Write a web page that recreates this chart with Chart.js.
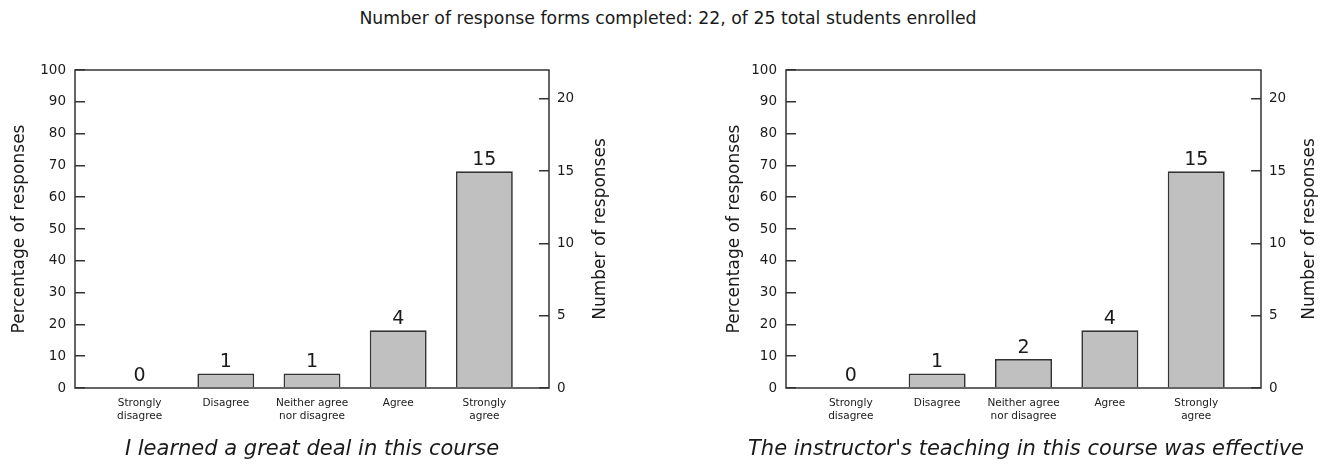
<!DOCTYPE html>
<html>
<head>
<meta charset="utf-8">
<script src="https://cdn.jsdelivr.net/npm/chart.js@4"></script>
<style>
  body { margin: 0; background: #fff; width: 1333px; height: 465px; position: relative; overflow: hidden; font-family: "DejaVu Sans", sans-serif; color: #1a1a1a; }
  #top { position: absolute; top: 8px; left: 0; width: 1336px; text-align: center; font-size: 17.3px; }
  .cap { position: absolute; top: 436px; font-style: italic; font-size: 21px; text-align: center; white-space: nowrap; }
  canvas { position: absolute; top: 0; }
</style>
</head>
<body>
<div id="top">Number of response forms completed: 22, of 25 total students enrolled</div>
<canvas id="c1" width="666" height="465" style="left:0"></canvas>
<canvas id="c2" width="667" height="465" style="left:666px"></canvas>
<div class="cap" style="left:12px;width:600px">I learned a great deal in this course</div>
<div class="cap" style="left:726px;width:600px">The instructor's teaching in this course was effective</div>
<script>
// answers, and counts per question (22 forms = 100%)
var categories = [['Strongly', 'disagree'], ['Disagree'], ['Neither agree', 'nor disagree'], ['Agree'], ['Strongly', 'agree']];
var learnedCounts = [0, 1, 1, 4, 15];
var teachingCounts = [0, 1, 2, 4, 15];
var totalForms = 22;
var pctTicks = [0, 10, 20, 30, 40, 50, 60, 70, 80, 90, 100];
var countTicks = [0, 5, 10, 15, 20];

var FONT = '"DejaVu Sans", sans-serif';
var INK = '#1a1a1a';
var AXIS = '#333';

// frame around the plot, count over each bar, right axis title (reads upwards)
var boxAndLabels = {
  id: 'boxAndLabels',
  afterDatasetsDraw: function (chart) {
    var ctx = chart.ctx, a = chart.chartArea;
    ctx.save();
    ctx.strokeStyle = AXIS;
    ctx.lineWidth = 1.5;
    ctx.strokeRect(a.left, a.top, a.right - a.left, a.bottom - a.top);
    ctx.font = '19px ' + FONT;
    ctx.fillStyle = INK;
    ctx.textAlign = 'center';
    ctx.textBaseline = 'bottom';
    var ds = chart.data.datasets[0];
    chart.getDatasetMeta(0).data.forEach(function (bar, i) {
      ctx.fillText(String(ds.data[i].y), bar.x, bar.y - 2);
    });
    ctx.translate(a.right + chart.options.rightTitleGap, (a.top + a.bottom) / 2);
    ctx.rotate(-Math.PI / 2);
    ctx.font = '17px ' + FONT;
    ctx.textBaseline = 'middle';
    ctx.fillText('Number of responses', 0, 0);
    ctx.restore();
  }
};

function makeChart(id, counts, w) {
  return new Chart(document.getElementById(id), {
    type: 'bar',
    data: {
      datasets: [{
        data: counts.map(function (v, i) { return { x: i, y: v }; }),
        xAxisID: 'x',
        yAxisID: 'yR',
        backgroundColor: '#c0c0c0',
        borderColor: AXIS,
        borderWidth: 1.7,
        categoryPercentage: 1,
        barPercentage: 0.66
      }]
    },
    options: {
      responsive: false,
      animation: false,
      rightTitleGap: w.rt,
      layout: { padding: { top: 70, bottom: 0, left: 0, right: 0 } },
      plugins: { legend: { display: false }, tooltip: { enabled: false } },
      scales: {
        x: {
          type: 'linear',
          offset: false,
          min: -0.75,
          max: categories.length - 0.25,
          afterBuildTicks: function (s) { s.ticks = categories.map(function (c, i) { return { value: i }; }); },
          afterFit: function (s) { s.height = 77; },
          grid: { display: false, drawTicks: false },
          border: { display: false },
          ticks: {
            autoSkip: false, maxRotation: 0, padding: 9,
            color: INK, font: { family: FONT, size: 10.5 },
            callback: function (v) { return categories[v]; }
          }
        },
        y: {
          position: 'left',
          min: 0,
          max: 100,
          afterBuildTicks: function (s) { s.ticks = pctTicks.map(function (v) { return { value: v }; }); },
          afterFit: function (s) { s.width = w.left; },
          grid: { drawOnChartArea: false, drawTicks: true, tickLength: -10, color: AXIS, lineWidth: 1.5 },
          border: { display: false },
          ticks: { padding: 19, color: INK, font: { family: FONT, size: 13.5 } },
          title: { display: true, text: 'Percentage of responses', color: INK, font: { family: FONT, size: 17 }, padding: { top: w.lt, bottom: 0 } }
        },
        yR: {
          position: 'right',
          min: 0,
          max: totalForms,
          afterBuildTicks: function (s) { s.ticks = countTicks.map(function (v) { return { value: v }; }); },
          afterFit: function (s) { s.width = w.right; },
          grid: { drawOnChartArea: false, drawTicks: true, tickLength: -10, color: AXIS, lineWidth: 1.5 },
          border: { display: false },
          ticks: { padding: 18, color: INK, font: { family: FONT, size: 13.5 } }
        }
      }
    },
    plugins: [boxAndLabels]
  });
}

makeChart('c1', learnedCounts, { left: 75, right: 117, lt: 9, rt: 52 });
makeChart('c2', teachingCounts, { left: 120, right: 72, lt: 58, rt: 49 });
</script>
</body>
</html>
